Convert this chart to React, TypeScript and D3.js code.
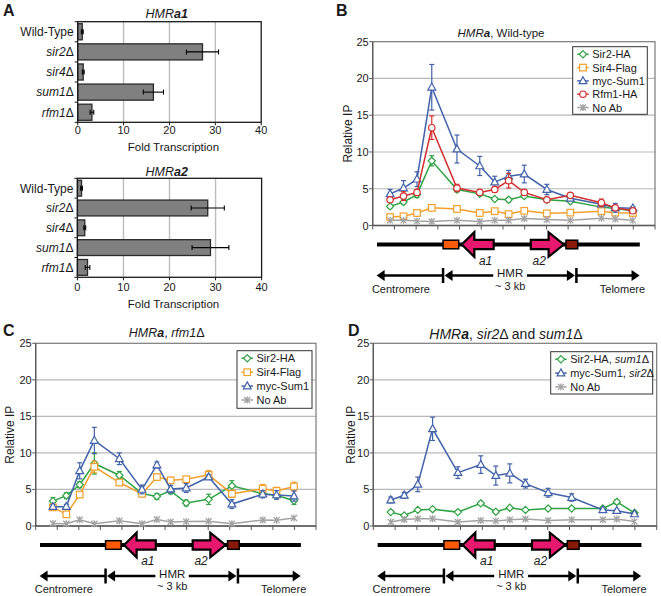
import React from "react";
import * as d3 from "d3";

const FONT = '"Liberation Sans", Arial, Helvetica, sans-serif';

// ---------- Panel A data ----------
const strains = ["Wild-Type", "i:sir2|Δ", "i:sir4|Δ", "i:sum1|Δ", "i:rfm1|Δ"];
const a1Fold = [1.0, 27.2, 1.2, 16.5, 3.1];
const a1Err = [0.2, 3.5, 0.2, 2.2, 0.4];
const a2Fold = [0.9, 28.3, 1.6, 28.9, 2.2];
const a2Err = [0.2, 3.6, 0.2, 4.0, 0.5];
const foldTicks = [0, 10, 20, 30, 40];

// ---------- Panels B-D data (x = position along HMR, arbitrary units) ----------
const positions = [0.8, 1.42, 2.04, 2.72, 3.88, 4.93, 5.62, 6.26, 6.98, 8.02, 9.1, 10.53, 11.17, 11.98];
const ipTicks = [0, 5, 10, 15, 20, 25];

const bSir2 = [2.6, 3.2, 4.2, 8.8, 4.9, 4.3, 3.6, 3.5, 4.0, 3.5, 3.3, 2.5, 2.3, 2.0];
const bSir2Err = [0.2, 0.3, 0.4, 0.7, 0.3, 0.2, 0.2, 0.3, 0.2, 0.2, 0.2, 0.2, 0.2, 0.2];
const bSir4 = [1.15, 1.25, 1.7, 2.4, 2.25, 1.7, 1.95, 1.55, 2.0, 1.65, 1.75, 1.95, 1.75, 1.7];
const bSir4Err = [0.2, 0.2, 0.2, 0.2, 0.4, 0.2, 0.2, 0.2, 0.2, 0.2, 0.2, 0.3, 0.3, 0.2];
const bSum1 = [4.3, 5.1, 6.3, 18.8, 10.4, 8.1, 5.9, 6.7, 7.0, 4.9, 3.7, 2.9, 2.4, 2.35];
const bSum1Err = [0.6, 1.0, 1.0, 3.1, 1.9, 1.3, 0.8, 0.8, 1.2, 0.7, 0.3, 0.3, 0.6, 0.2];
const bRfm1 = [3.5, 4.0, 4.5, 13.3, 5.1, 4.5, 4.9, 6.1, 4.5, 3.5, 4.1, 3.1, 2.4, 2.0];
const bRfm1Err = [0.3, 0.6, 0.3, 1.6, 0.5, 0.3, 0.4, 1.0, 0.3, 0.2, 0.3, 0.5, 0.3, 0.2];
const bNoAb = [0.7, 0.7, 0.6, 0.55, 0.7, 0.55, 0.7, 0.7, 0.95, 0.8, 0.7, 1.0, 0.87, 0.7];

const cSir2 = [3.4, 4.15, 5.65, 8.55, 6.95, 4.45, 4.05, 4.8, 3.15, 3.65, 5.5, 4.4, 4.2, 3.45];
const cSir2Err = [0.5, 0.4, 0.4, 1.45, 0.5, 0.4, 0.4, 0.4, 0.4, 0.7, 0.7, 0.4, 0.5, 0.5];
const cSir4 = [2.55, 1.6, 4.3, 8.1, 5.95, 4.4, 6.7, 6.25, 6.4, 7.0, 4.4, 5.1, 4.8, 5.4];
const cSir4Err = [0.3, 0.4, 0.3, 0.8, 0.3, 0.3, 0.4, 0.4, 0.3, 0.6, 0.5, 0.6, 0.5, 0.6];
const cSum1 = [2.65, 2.65, 7.55, 11.7, 9.2, 5.0, 8.35, 5.05, 5.2, 6.7, 3.0, 4.35, 4.25, 4.1];
const cSum1Err = [0.3, 0.3, 1.1, 1.8, 0.8, 0.6, 0.4, 0.5, 0.6, 0.3, 0.6, 0.5, 0.6, 0.7];
const cNoAb = [0.35, 0.3, 0.85, 0.3, 0.72, 0.3, 0.88, 0.55, 0.6, 0.65, 0.32, 0.82, 0.8, 1.1];

const dSir2 = [1.9, 1.45, 2.2, 2.3, 1.9, 3.1, 1.95, 2.5, 2.2, 2.4, 2.4, 2.4, 3.3, 1.8];
const dSir2Err = [0.15, 0.15, 0.15, 0.15, 0.15, 0.15, 0.15, 0.15, 0.15, 0.15, 0.15, 0.15, 0.3, 0.15];
const dSum1 = [3.55, 4.2, 5.7, 13.3, 7.3, 8.4, 6.9, 7.2, 5.8, 4.55, 3.9, 2.2, 2.1, 1.65];
const dSum1Err = [0.4, 0.4, 1.0, 1.6, 0.8, 1.2, 1.3, 1.3, 0.6, 0.6, 0.5, 0.2, 0.2, 0.2];
const dNoAb = [0.55, 0.9, 1.0, 1.0, 0.55, 0.75, 0.7, 0.85, 0.95, 0.75, 0.85, 0.85, 0.95, 0.6];

const GREEN = "#2fa343";
const ORANGE = "#f1a02c";
const BLUE = "#4262aa";
const RED = "#d22f2f";
const GREY = "#a3a3a3";

type Series = { name: string; values: number[]; errs?: number[]; color: string; marker: string };

const bSeries: Series[] = [
  { name: "Sir2-HA", values: bSir2, errs: bSir2Err, color: GREEN, marker: "diamond" },
  { name: "Sir4-Flag", values: bSir4, errs: bSir4Err, color: ORANGE, marker: "square" },
  { name: "myc-Sum1", values: bSum1, errs: bSum1Err, color: BLUE, marker: "triangle" },
  { name: "Rfm1-HA", values: bRfm1, errs: bRfm1Err, color: RED, marker: "circle" },
  { name: "No Ab", values: bNoAb, color: GREY, marker: "star" },
];
const cSeries: Series[] = [
  { name: "Sir2-HA", values: cSir2, errs: cSir2Err, color: GREEN, marker: "diamond" },
  { name: "Sir4-Flag", values: cSir4, errs: cSir4Err, color: ORANGE, marker: "square" },
  { name: "myc-Sum1", values: cSum1, errs: cSum1Err, color: BLUE, marker: "triangle" },
  { name: "No Ab", values: cNoAb, color: GREY, marker: "star" },
];
const dSeries: Series[] = [
  { name: "Sir2-HA, |i:sum1|Δ", values: dSir2, errs: dSir2Err, color: GREEN, marker: "diamond" },
  { name: "myc-Sum1, |i:sir2|Δ", values: dSum1, errs: dSum1Err, color: BLUE, marker: "triangle" },
  { name: "No Ab", values: dNoAb, color: GREY, marker: "star" },
];

function Rich({ s }: { s: string }) {
  return (
    <>
      {s.split("|").map((seg, k) => {
        if (seg.startsWith("i:")) return <tspan key={k} fontStyle="italic">{seg.slice(2)}</tspan>;
        if (seg.startsWith("b:"))
          return <tspan key={k} fontStyle="italic" fontWeight="bold">{seg.slice(2)}</tspan>;
        return <tspan key={k}>{seg}</tspan>;
      })}
    </>
  );
}

function Marker({ type, x, y, color }: { type: string; x: number; y: number; color: string }) {
  const sw = 1.2;
  if (type === "diamond")
    return <path d={`M${x},${y - 3.6}L${x + 3.6},${y}L${x},${y + 3.6}L${x - 3.6},${y}Z`} fill="#fff" stroke={color} strokeWidth={sw} />;
  if (type === "square")
    return <rect x={x - 3.3} y={y - 3.3} width={6.6} height={6.6} fill="#fff" stroke={color} strokeWidth={sw} />;
  if (type === "triangle")
    return <path d={`M${x},${y - 4.2}L${x + 3.9},${y + 2.8}L${x - 3.9},${y + 2.8}Z`} fill="#fff" stroke={color} strokeWidth={sw} />;
  if (type === "circle") return <circle cx={x} cy={y} r={3.2} fill="#fff" stroke={color} strokeWidth={sw} />;
  return (
    <path
      d={`M${x - 3},${y - 3}L${x + 3},${y + 3}M${x - 3},${y + 3}L${x + 3},${y - 3}M${x},${y - 3.5}L${x},${y + 3.5}`}
      stroke={color}
      strokeWidth={1.3}
      fill="none"
    />
  );
}

function BarPanel(props: {
  top: number; bottom: number; x0: number; x1: number; values: number[]; errs: number[];
  title: string; titleY: number; tickY: number; axisLabelY: number;
}) {
  const { top, bottom, x0, x1, values, errs, title, titleY, tickY, axisLabelY } = props;
  const x = d3.scaleLinear().domain([0, 40]).range([x0, x1]);
  const y = d3.scaleBand().domain(strains).range([top, bottom]).paddingInner(0.2).paddingOuter(0.1);
  const step = y.step();
  return (
    <g>
      <text x={166.7} y={titleY} textAnchor="middle" fontSize={12.5} style={{ whiteSpace: "pre" }}>
        <Rich s={title} />
      </text>
      {foldTicks.slice(1, -1).map((t) => (
        <line key={t} x1={x(t)} x2={x(t)} y1={top} y2={bottom} stroke="#bdbdbd" strokeWidth={1.4} />
      ))}
      {strains.map((s, i) => {
        const by = y(s)!;
        const bh = y.bandwidth();
        const cy = by + bh / 2;
        return (
          <g key={s}>
            <rect x={x(0)} y={by} width={x(values[i]) - x(0)} height={bh} fill="#808080" stroke="#2a2a2a" strokeWidth={1.3} />
            <line x1={x(values[i] - errs[i])} x2={x(values[i] + errs[i])} y1={cy} y2={cy} stroke="#000" strokeWidth={1.1} />
            <line x1={x(values[i] - errs[i])} x2={x(values[i] - errs[i])} y1={cy - 2.5} y2={cy + 2.5} stroke="#000" strokeWidth={1.1} />
            <line x1={x(values[i] + errs[i])} x2={x(values[i] + errs[i])} y1={cy - 2.5} y2={cy + 2.5} stroke="#000" strokeWidth={1.1} />
            <text x={x0 - 4} y={cy + 4.3} textAnchor="end" fontSize={12}>
              <Rich s={s} />
            </text>
          </g>
        );
      })}
      <rect x={x0} y={top} width={x1 - x0} height={bottom - top} fill="none" stroke="#1a1a1a" strokeWidth={1.3} />
      {d3.range(strains.length + 1).map((i) => (
        <line key={i} x1={x0 - 3} x2={x0} y1={top + i * step} y2={top + i * step} stroke="#1a1a1a" strokeWidth={1} />
      ))}
      {foldTicks.map((t) => (
        <g key={t}>
          <line x1={x(t)} x2={x(t)} y1={bottom} y2={bottom + 3} stroke="#1a1a1a" strokeWidth={1} />
          <text x={x(t)} y={tickY} textAnchor="middle" fontSize={11}>{t}</text>
        </g>
      ))}
      <text x={(x0 + x1) / 2 + 4} y={axisLabelY} textAnchor="middle" fontSize={11.5}>Fold Transcription</text>
    </g>
  );
}

function GeneMap({ x, y0 }: { x: d3.ScaleLinear<number, number>; y0: number }) {
  const ly = y0 + 19;
  const ay = y0 + 50;
  const arrow = (tail: number, hb: number, tip: number) => {
    const t = x(tail), b = x(hb), p = x(tip);
    return `M${t},${ly - 4.7}L${b},${ly - 4.7}L${b},${ly - 12.3}L${p},${ly}L${b},${ly + 12.3}L${b},${ly + 4.7}L${t},${ly + 4.7}Z`;
  };
  const head = (tip: number, dir: number) => `M${tip},${ay}L${tip - dir * 8},${ay - 5.5}L${tip - dir * 8},${ay + 5.5}Z`;
  const bl = x(3.24), br = x(9.38), cl = x(0.18), tr = x(12.29);
  return (
    <g>
      <line x1={x(0.2)} x2={x(12.3)} y1={ly} y2={ly} stroke="#000" strokeWidth={4} />
      <rect x={x(3.24)} y={ly - 4.3} width={x(3.96) - x(3.24)} height={8.6} fill="#ff5a0a" stroke="#000" strokeWidth={1.5} />
      <path d={arrow(5.57, 4.68, 4.1)} fill="#e8186f" stroke="#000" strokeWidth={2.2} strokeLinejoin="miter" />
      <path d={arrow(7.28, 8.1, 8.8)} fill="#e8186f" stroke="#000" strokeWidth={2.2} strokeLinejoin="miter" />
      <rect x={x(8.9)} y={ly - 4.3} width={x(9.44) - x(8.9)} height={8.6} fill="#8a1a08" stroke="#000" strokeWidth={1.5} />
      <text x={x(5.2)} y={y0 + 39} textAnchor="middle" fontSize={12} fontStyle="italic">a1</text>
      <text x={x(7.67)} y={y0 + 39} textAnchor="middle" fontSize={12} fontStyle="italic">a2</text>
      {/* arrows row */}
      <line x1={bl} x2={cl + 6} y1={ay} y2={ay} stroke="#000" strokeWidth={2.5} />
      <path d={head(cl, -1)} fill="#000" />
      <line x1={x(5.55)} x2={bl + 6} y1={ay} y2={ay} stroke="#000" strokeWidth={2.5} />
      <path d={head(bl + 1.5, -1)} fill="#000" />
      <line x1={x(7.1)} x2={br - 6} y1={ay} y2={ay} stroke="#000" strokeWidth={2.5} />
      <path d={head(br - 1.5, 1)} fill="#000" />
      <line x1={br} x2={tr - 6} y1={ay} y2={ay} stroke="#000" strokeWidth={2.5} />
      <path d={head(tr, 1)} fill="#000" />
      <line x1={bl} x2={bl} y1={ay - 7.5} y2={ay + 7.5} stroke="#000" strokeWidth={2.5} />
      <line x1={br} x2={br} y1={ay - 7.5} y2={ay + 7.5} stroke="#000" strokeWidth={2.5} />
      <text x={x(6.33)} y={y0 + 51.5} textAnchor="middle" fontSize={11.5}>HMR</text>
      <text x={x(6.33)} y={y0 + 64} textAnchor="middle" fontSize={11}>~ 3 kb</text>
      <text x={x(1.3)} y={y0 + 67} textAnchor="middle" fontSize={11}>Centromere</text>
      <text x={x(11.5)} y={y0 + 67} textAnchor="middle" fontSize={11}>Telomere</text>
    </g>
  );
}

type LineCfg = {
  x0: number; x1: number; yTop: number; y0: number; series: Series[];
  title: string; titleX: number; titleY: number; titleSize: number; ylabelX: number;
  lx: number; ly: number; lw: number; lh: number; rowH: number;
};

function LinePanel({ c }: { c: LineCfg }) {
  const x = d3.scaleLinear().domain([0, 13]).range([c.x0, c.x1]);
  const y = d3.scaleLinear().domain([0, 25]).range([c.y0, c.yTop]);
  const line = d3.line<number>().x((_, i) => x(positions[i])).y((d) => y(d));
  return (
    <g>
      <text x={c.titleX} y={c.titleY} textAnchor="middle" fontSize={c.titleSize} style={{ whiteSpace: "pre" }}>
        <Rich s={c.title} />
      </text>
      {ipTicks.slice(1, -1).map((t) => (
        <line key={t} x1={c.x0} x2={c.x1} y1={y(t)} y2={y(t)} stroke="#b9b9b9" strokeWidth={1.2} />
      ))}
      <rect x={c.x0} y={c.yTop} width={c.x1 - c.x0} height={c.y0 - c.yTop} fill="none" stroke="#7a7a7a" strokeWidth={1.2} />
      <line x1={c.x0} x2={c.x0} y1={c.yTop} y2={c.y0} stroke="#5a5a5a" strokeWidth={1.3} />
      <line x1={c.x0} x2={c.x1} y1={c.y0} y2={c.y0} stroke="#5a5a5a" strokeWidth={1.3} />
      {ipTicks.map((t) => (
        <g key={t}>
          <line x1={c.x0 - 3.5} x2={c.x0} y1={y(t)} y2={y(t)} stroke="#5a5a5a" strokeWidth={1} />
          <text x={c.x0 - 4} y={y(t) + 4} textAnchor="end" fontSize={11}>{t}</text>
        </g>
      ))}
      {d3.range(0, 14).map((u) => (
        <line key={u} x1={x(u)} x2={x(u)} y1={c.y0} y2={c.y0 + 4} stroke="#5a5a5a" strokeWidth={1} />
      ))}
      <text
        transform={`translate(${c.ylabelX},${(c.yTop + c.y0) / 2}) rotate(-90)`}
        textAnchor="middle"
        dy="0.35em"
        fontSize={12}
      >
        Relative IP
      </text>
      {c.series.map((s) => (
        <g key={s.name}>
          <path d={line(s.values) || ""} fill="none" stroke={s.color} strokeWidth={1.5} />
          {s.errs &&
            s.values.map((v, i) => {
              const px = x(positions[i]);
              const lo = y(v - s.errs![i]);
              const hi = y(v + s.errs![i]);
              return (
                <g key={i} stroke={s.color} strokeWidth={1.2}>
                  <line x1={px} x2={px} y1={lo} y2={hi} />
                  <line x1={px - 2.5} x2={px + 2.5} y1={lo} y2={lo} />
                  <line x1={px - 2.5} x2={px + 2.5} y1={hi} y2={hi} />
                </g>
              );
            })}
          {s.values.map((v, i) => (
            <Marker key={i} type={s.marker} x={x(positions[i])} y={y(v)} color={s.color} />
          ))}
        </g>
      ))}
      <rect x={c.lx} y={c.ly} width={c.lw} height={c.lh} fill="#fff" stroke="#333" strokeWidth={1} />
      {c.series.map((s, k) => {
        const ry = c.ly + 7.6 + k * c.rowH;
        return (
          <g key={s.name}>
            <line x1={c.lx + 4.5} x2={c.lx + 16} y1={ry} y2={ry} stroke={s.color} strokeWidth={1.5} />
            <Marker type={s.marker} x={c.lx + 10.25} y={ry} color={s.color} />
            <text x={c.lx + 19.5} y={ry + 4} fontSize={11} style={{ whiteSpace: "pre" }}>
              <Rich s={s.name} />
            </text>
          </g>
        );
      })}
      <GeneMap x={x} y0={c.y0} />
    </g>
  );
}

const panelB: LineCfg = {
  x0: 372.7, x1: 655, yTop: 41.7, y0: 225.5, series: bSeries,
  title: "i:HMR|b:a|, Wild-type", titleX: 501, titleY: 37.3, titleSize: 11.5, ylabelX: 348,
  lx: 572.7, ly: 46.7, lw: 74.6, lh: 67.6, rowH: 13.3,
};
const panelC: LineCfg = {
  x0: 35.7, x1: 316, yTop: 343.3, y0: 526, series: cSeries,
  title: "i:HMR|b:a|, |i:rfm1|Δ", titleX: 166.7, titleY: 337, titleSize: 12.5, ylabelX: 10,
  lx: 237, ly: 350.7, lw: 75, lh: 57.6, rowH: 13.9,
};
const panelD: LineCfg = {
  x0: 373.3, x1: 656.7, yTop: 343.3, y0: 526, series: dSeries,
  title: "i:HMR|b:a|, |i:sir2|Δ and |i:sum1|Δ", titleX: 506, titleY: 339, titleSize: 14, ylabelX: 350.5,
  lx: 550.7, ly: 351.7, lw: 102, lh: 42.3, rowH: 13.8,
};

export default function App() {
  return (
    <svg
      width={661}
      height={596}
      viewBox="0 0 661 596"
      style={{ position: "absolute", left: 0, top: 0, background: "#fff" }}
      fontFamily={FONT}
      fill="#1a1a1a"
    >
      <rect x={0} y={0} width={661} height={596} fill="#fff" />
      <text x={3} y={16} fontSize={16} fontWeight="bold">A</text>
      <text x={336} y={16} fontSize={16} fontWeight="bold">B</text>
      <text x={3} y={336} fontSize={16} fontWeight="bold">C</text>
      <text x={348} y={336} fontSize={16} fontWeight="bold">D</text>
      <BarPanel top={21.7} bottom={122.3} x0={77.7} x1={261.2} values={a1Fold} errs={a1Err}
        title="i:HMR|b:a1" titleY={18} tickY={134} axisLabelY={151} />
      <BarPanel top={178.3} bottom={277.3} x0={77.4} x1={261.6} values={a2Fold} errs={a2Err}
        title="i:HMR|b:a2" titleY={176} tickY={291} axisLabelY={308} />
      <LinePanel c={panelB} />
      <LinePanel c={panelC} />
      <LinePanel c={panelD} />
    </svg>
  );
}
